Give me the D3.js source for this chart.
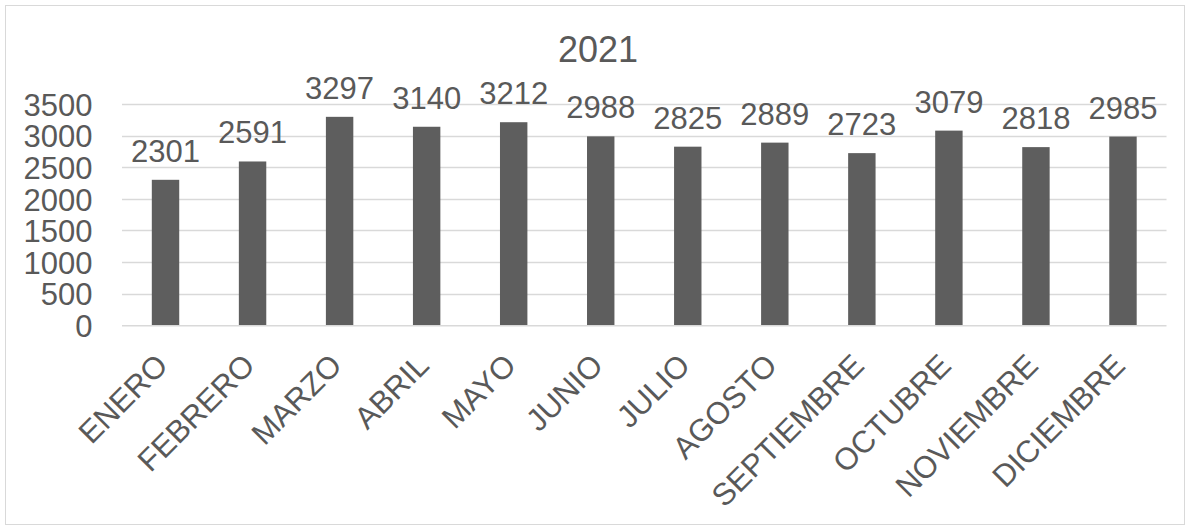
<!DOCTYPE html>
<html>
<head>
<meta charset="utf-8">
<script src="https://cdn.jsdelivr.net/npm/d3@7"></script>
<style>
  html, body { margin: 0; padding: 0; background: #fff; }
  svg { display: block; font-family: "Liberation Sans", Arial, sans-serif; }
</style>
</head>
<body>
<svg id="chart" width="1190" height="531"></svg>
<script>
const categories = ["ENERO","FEBRERO","MARZO","ABRIL","MAYO","JUNIO","JULIO","AGOSTO","SEPTIEMBRE","OCTUBRE","NOVIEMBRE","DICIEMBRE"];
const values = [2301, 2591, 3297, 3140, 3212, 2988, 2825, 2889, 2723, 3079, 2818, 2985];
const yTicks = [0, 500, 1000, 1500, 2000, 2500, 3000, 3500];
const title = "2021";

const svg = d3.select("#chart");
const textColor = "#595959";
const gridColor = "#d9d9d9";
const fontFamily = "'Liberation Sans', Arial, sans-serif";

// chart border
svg.append("rect")
  .attr("x", 5.5).attr("y", 5.5)
  .attr("width", 1179).attr("height", 519)
  .attr("fill", "#fff").attr("stroke", gridColor).attr("stroke-width", 1);

const plot = { left: 122, right: 1166.5, top: 104, bottom: 325.3 };

const x = d3.scaleBand().domain(categories).range([plot.left, plot.right]).paddingInner(0.685).paddingOuter(0.3425);
const y = d3.scaleLinear().domain([0, 3500]).range([plot.bottom, plot.top]);

// gridlines
svg.append("g").selectAll("line").data(yTicks.filter(d => d > 0)).join("line")
  .attr("x1", plot.left).attr("x2", plot.right)
  .attr("y1", d => Math.round(y(d)) + 0.5).attr("y2", d => Math.round(y(d)) + 0.5)
  .attr("stroke", gridColor).attr("stroke-width", 1.3);

// y axis labels
const yAxis = d3.axisLeft(y).tickValues(yTicks).tickSize(0).tickPadding(0).tickFormat(d3.format("d"));
const yg = svg.append("g").attr("transform", `translate(${plot.left - 29.5},0)`).call(yAxis);
yg.select(".domain").remove();
yg.selectAll("text").attr("fill", textColor).style("font-size", "31px").attr("dy", "0.36em")
  .style("font-family", fontFamily);

// bars
svg.append("g").selectAll("rect").data(values).join("rect")
  .attr("x", (d, i) => x(categories[i]))
  .attr("width", x.bandwidth())
  .attr("y", d => y(d))
  .attr("height", d => y(0) - y(d))
  .attr("fill", "#5e5e5e");

// axis line
svg.append("line")
  .attr("x1", plot.left).attr("x2", plot.right)
  .attr("y1", plot.bottom + 0.5).attr("y2", plot.bottom + 0.5)
  .attr("stroke", gridColor).attr("stroke-width", 1.5);

// data labels
svg.append("g").selectAll("text").data(values).join("text")
  .attr("x", (d, i) => x(categories[i]) + x.bandwidth() / 2)
  .attr("y", d => y(d) - 18)
  .attr("text-anchor", "middle")
  .attr("fill", textColor)
  .style("font-size", "31px")
  .style("font-family", fontFamily)
  .text(d => d);

// category labels
const xAxis = d3.axisBottom(x).tickSize(0).tickPadding(0);
const xg = svg.append("g").attr("transform", `translate(0,${plot.bottom})`).call(xAxis);
xg.select(".domain").remove();
xg.selectAll("text")
  .attr("fill", textColor)
  .style("font-size", "31px")
  .style("font-family", fontFamily)
  .attr("text-anchor", "end")
  .attr("y", 0)
  .attr("dy", 0)
  .attr("transform", "translate(4,42) rotate(-45)");

// title
svg.append("text")
  .attr("x", 598).attr("y", 61.5)
  .attr("text-anchor", "middle")
  .attr("fill", textColor)
  .style("font-size", "36px")
  .style("font-family", fontFamily)
  .text(title);
</script>
</body>
</html>
